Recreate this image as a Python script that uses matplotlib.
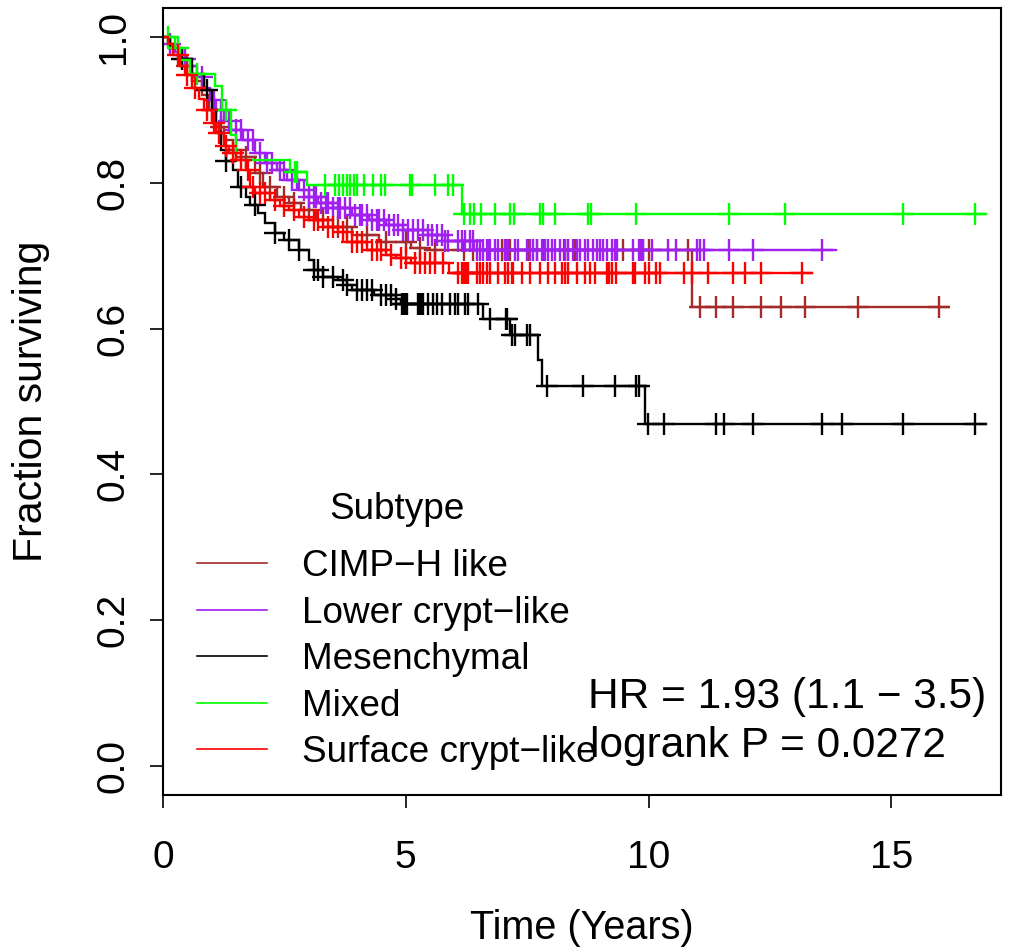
import numpy as np
import matplotlib
matplotlib.use("Agg")
import matplotlib.pyplot as plt
from matplotlib.lines import Line2D

plt.rcParams['font.family'] = ['Liberation Sans', 'DejaVu Sans']

# ---------------- data ----------------
groups = ["CIMP\u2212H like", "Lower crypt\u2212like", "Mesenchymal", "Mixed", "Surface crypt\u2212like"]
colors = ["#A52A2A", "#A020F0", "#000000", "#00FF00", "#FF0000"]

# CIMP-H like
cimp_event_t = [0.15, 0.4, 0.6, 0.8, 0.95, 1.1, 1.25, 1.45, 1.6, 1.9, 2.05, 2.35, 2.6, 2.85, 3.15, 3.5, 3.9, 4.45, 5.1, 5.4, 10.89]
cimp_surv = [0.985, 0.96, 0.94, 0.92, 0.9, 0.877, 0.859, 0.845, 0.836, 0.813, 0.794, 0.781, 0.772, 0.763, 0.749, 0.739, 0.728, 0.719, 0.711, 0.708, 0.629]
cimp_cens = [0.5, 1.0, 1.2, 1.5, 1.7, 2.0, 2.2, 2.5, 2.7, 3.0, 3.3, 3.6, 3.8, 4.2, 4.6, 5.0, 5.3, 5.6,
             6.19, 6.39, 6.98, 7.04, 7.15, 7.52, 7.70, 7.83, 8.25, 8.35, 8.49, 9.48, 9.89, 10.0, 10.82,
             11.06, 11.40, 11.73, 12.32, 12.73, 13.23, 14.32, 15.98]
cimp_end = 16.17

# Lower crypt-like
lower_event_t = [0.1, 0.25, 0.4, 0.55, 0.7, 0.85, 0.97, 1.1, 1.25, 1.4, 1.65, 1.9, 2.1, 2.35, 2.55, 2.8, 3.0, 3.2, 3.5, 3.9, 4.25, 4.6, 4.95, 5.45, 5.8, 6.4]
lower_surv = [0.99, 0.98, 0.97, 0.96, 0.945, 0.93, 0.914, 0.9, 0.885, 0.872, 0.859, 0.841, 0.827, 0.818, 0.804, 0.79, 0.78, 0.772, 0.765, 0.756, 0.749, 0.742, 0.735, 0.728, 0.72, 0.708]
lower_cens = [0.15, 0.45, 0.8, 1.05, 1.2, 1.35, 1.5, 1.6, 1.75, 1.85, 2.0, 2.15, 2.25, 2.4, 2.5, 2.65, 2.75,
              2.9, 3.0, 3.1, 3.15, 3.25, 3.35, 3.4, 3.5, 3.6, 3.65, 3.75, 3.85, 3.95, 4.05, 4.1, 4.2, 4.3,
              4.4, 4.45, 4.55, 4.65, 4.75, 4.85, 4.95, 5.05, 5.15, 5.25, 5.35, 5.45, 5.55, 5.65,
              5.74, 5.81, 5.88, 6.08, 6.15, 6.22, 6.32, 6.39, 6.46, 6.53, 6.60, 6.67, 6.70, 6.74, 6.84,
              6.91, 7.04, 7.08, 7.11, 7.25, 7.32, 7.49, 7.56, 7.63, 7.70, 7.80, 7.87, 7.94, 8.01, 8.07,
              8.18, 8.28, 8.35, 8.45, 8.52, 8.59, 8.69, 8.76, 8.86, 8.93,
              9.00, 9.06, 9.15, 9.25, 9.31, 9.35, 9.68, 9.80, 9.85, 9.89, 10.07, 10.40, 10.57, 11.00,
              11.06, 11.14, 11.66, 12.15, 13.58]
lower_end = 13.86

# Mesenchymal
mes_event_t = [0.15, 0.35, 0.6, 0.85, 1.0, 1.1, 1.2, 1.3, 1.45, 1.55, 1.7, 1.8, 1.95, 2.1, 2.3, 2.5, 2.8, 3.0, 3.1, 3.3, 3.6, 3.8, 3.9, 4.35, 4.8, 4.9, 6.6, 7.15, 7.73, 7.80, 9.93]
mes_surv = [0.985, 0.97, 0.95, 0.927, 0.9, 0.87, 0.845, 0.83, 0.818, 0.795, 0.78, 0.77, 0.759, 0.745, 0.731, 0.722, 0.708, 0.694, 0.68, 0.671, 0.667, 0.66, 0.653, 0.646, 0.64, 0.634, 0.613, 0.591, 0.557, 0.521, 0.469]
mes_cens = [0.4, 0.9, 1.3, 1.6, 1.9, 2.3, 2.6, 2.8, 3.1, 3.2, 3.3, 3.5, 3.7, 3.8, 4.0, 4.1, 4.2, 4.3, 4.5,
            4.6, 4.7, 4.8, 4.92, 4.95, 4.98, 5.02, 5.26, 5.29, 5.33, 5.36, 5.46, 5.57, 5.64, 5.74, 5.91,
            6.01, 6.08, 6.22, 6.29, 6.49, 6.74, 7.07, 7.09, 7.18, 7.25, 7.49, 7.56,
            7.90, 8.66, 9.31, 9.74, 9.81, 9.98, 10.32, 11.40, 11.56, 12.15, 13.57, 13.98, 15.24, 16.73]
mes_end = 16.95

# Mixed
mix_event_t = [0.25, 0.35, 0.55, 1.07, 1.21, 1.41, 1.5, 2.62, 2.96, 6.16]
mix_surv = [0.985, 0.968, 0.95, 0.933, 0.9, 0.866, 0.831, 0.815, 0.797, 0.757]
mix_cens = [0.1, 0.3, 0.7, 1.3, 2.72, 2.76, 3.34, 3.54, 3.63, 3.71, 3.78, 3.85, 3.93, 4.00, 4.13, 4.33,
            4.50, 4.57, 5.09, 5.12, 5.60, 5.88, 5.98, 6.19, 6.32, 6.41, 6.56, 6.83, 7.15, 7.23, 7.77,
            7.82, 8.07, 8.76, 8.81, 9.74, 11.65, 12.81, 15.24, 16.73]
mix_end = 16.95

# Surface crypt-like
surf_event_t = [0.1, 0.2, 0.35, 0.45, 0.6, 0.75, 0.85, 1.0, 1.1, 1.25, 1.35, 1.5, 1.7, 1.8, 1.9, 2.2, 2.4, 2.6, 2.8, 3.0, 3.3, 3.6, 3.8, 4.2, 4.6, 4.8, 5.1, 5.9]
surf_surv = [0.99, 0.975, 0.96, 0.948, 0.93, 0.915, 0.9, 0.882, 0.868, 0.85, 0.841, 0.831, 0.818, 0.794, 0.786, 0.776, 0.768, 0.763, 0.753, 0.749, 0.739, 0.732, 0.719, 0.708, 0.701, 0.697, 0.69, 0.677]
surf_cens = [0.3, 0.5, 0.65, 0.9, 1.05, 1.15, 1.3, 1.45, 1.6, 1.75, 1.85, 2.0, 2.1, 2.3, 2.5, 2.7, 2.9,
             3.1, 3.2, 3.4, 3.5, 3.7, 3.9, 4.0, 4.1, 4.3, 4.4, 4.5, 4.7, 4.9, 5.0, 5.2, 5.3, 5.4, 5.5, 5.6,
             5.77, 6.08, 6.15, 6.19, 6.22, 6.25, 6.29, 6.46, 6.53, 6.60, 6.67, 6.74, 6.91, 7.04, 7.11,
             7.18, 7.21, 7.39, 7.56, 7.77, 7.94, 8.07, 8.21, 8.28, 8.35, 8.52, 8.69, 8.80, 8.90,
             9.14, 9.19, 9.24, 9.33, 9.69, 9.72, 9.93, 10.0, 10.15, 10.24, 10.74, 10.89, 11.23, 11.73,
             11.99, 12.32, 13.16]
surf_end = 13.36

x_ticks = [0, 5, 10, 15]
y_ticks = [0.0, 0.2, 0.4, 0.6, 0.8, 1.0]
y_tick_labels = ["0.0", "0.2", "0.4", "0.6", "0.8", "1.0"]
hr_text = "HR = 1.93 (1.1 \u2212 3.5)"
p_text = "logrank P = 0.0272"

series = [
    (cimp_event_t, cimp_surv, cimp_cens, cimp_end),
    (lower_event_t, lower_surv, lower_cens, lower_end),
    (mes_event_t, mes_surv, mes_cens, mes_end),
    (mix_event_t, mix_surv, mix_cens, mix_end),
    (surf_event_t, surf_surv, surf_cens, surf_end),
]

# ---------------- figure ----------------
W, H = 1010, 948
fig = plt.figure(figsize=(W / 100, H / 100), dpi=100)
ax = fig.add_axes([163 / W, 1 - 795 / H, (1001 - 163) / W, (795 - 8) / H])

for (et, sv, ct, end), col in zip(series, colors):
    t = np.concatenate([[0.0], et, [end]])
    s = np.concatenate([[1.0], sv, [sv[-1]]])
    ax.step(t, s, where='post', color=col, lw=1.7, solid_joinstyle='miter')
    ct = np.asarray(ct)
    idx = np.searchsorted(t, ct, side='right') - 1
    ax.plot(ct, s[idx], linestyle='none', marker='+', color=col, ms=16.5, mew=1.7)

ax.set_xlim(0, 17.26)
ax.set_ylim(-0.04, 1.04)
ax.set_xticks(x_ticks)
ax.set_xticklabels([str(v) for v in x_ticks])
ax.set_yticks(y_ticks)
ax.set_yticklabels(y_tick_labels, rotation=90, va='center')
ax.tick_params(axis='both', direction='out', length=9.5, width=1.2, labelsize=28)
ax.tick_params(axis='x', pad=23)
ax.tick_params(axis='y', pad=13)
for sp in ax.spines.values():
    sp.set_linewidth(1.5)

ax.set_xlabel("Time (Years)", fontsize=28.5, labelpad=24)
ax.set_ylabel("Fraction surviving", fontsize=29.5, labelpad=33)

handles = [Line2D([0], [0], color=c, lw=1.2) for c in colors]
leg = ax.legend(handles, groups, loc='upper left',
                bbox_to_anchor=(197 / W, 1 - 492 / H), bbox_transform=fig.transFigure,
                frameon=False, fontsize=26.6, title="Subtype", title_fontsize=26.6,
                handlelength=1.9, handletextpad=0.95, labelspacing=0.31, borderpad=0,
                borderaxespad=0)
leg._legend_box.sep = 16

fig.text(588 / W, 1 - 697 / H, hr_text, fontsize=30.5, va='center', ha='left')
fig.text(590 / W, 1 - 746 / H, p_text, fontsize=30.5, va='center', ha='left')

fig.savefig("out.png", dpi=100)
